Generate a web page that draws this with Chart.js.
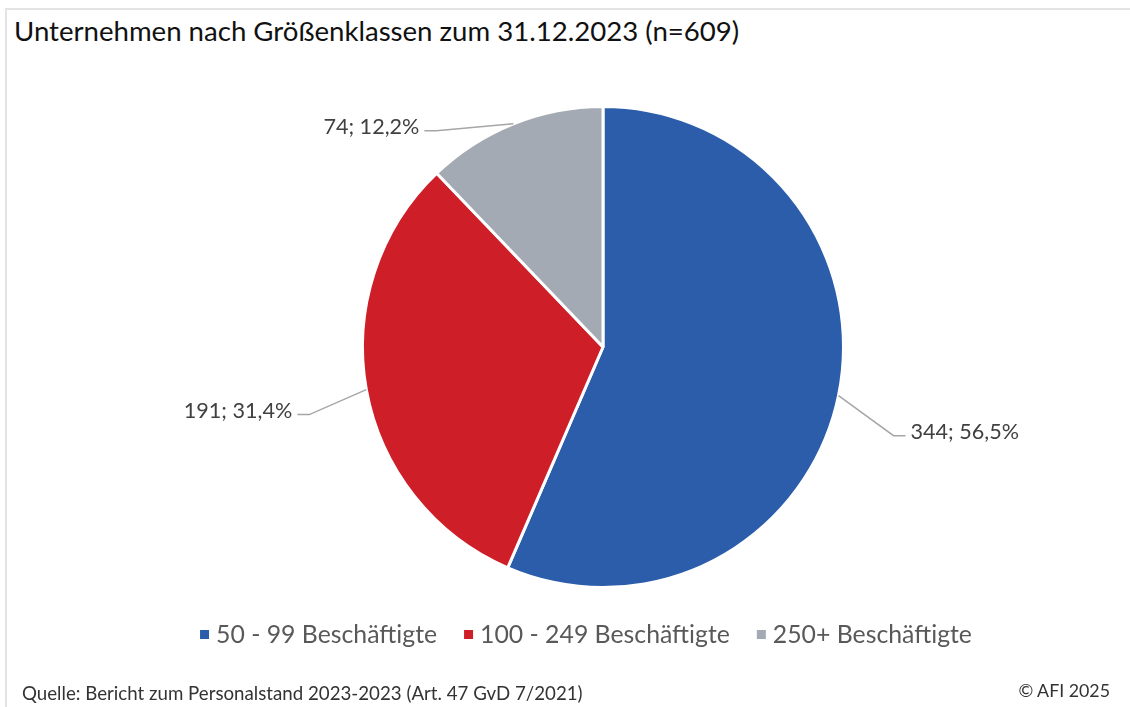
<!DOCTYPE html>
<html lang="de">
<head>
<meta charset="utf-8">
<title>Unternehmen nach Größenklassen</title>
<script src="https://cdn.jsdelivr.net/npm/chart.js@4.4.1/dist/chart.umd.min.js"></script>
<style>
  html, body { margin: 0; padding: 0; background: #fff; }
  #wrap { position: relative; width: 1130px; height: 707px; overflow: hidden; font-family: Lato, sans-serif; }
  #frame { position: absolute; left: 5px; top: 8px; width: 1140px; height: 720px; border: 2px solid #e3e3e3; box-sizing: border-box; }
  #title { position: absolute; left: 14px; top: 14px; font-size: 27.6px; color: #111; white-space: nowrap; }
  #source { position: absolute; left: 22px; top: 682px; font-size: 18.7px; color: #333; white-space: nowrap; }
  #copy { position: absolute; right: 20px; top: 679px; font-size: 17.8px; color: #333; white-space: nowrap; }
  canvas { position: absolute; left: 0; top: 0; }
</style>
</head>
<body>
<div id="wrap">
  <div id="frame"></div>
  <div id="title">Unternehmen nach Größenklassen zum 31.12.2023 (n=609)</div>
  <canvas id="pie" width="1130" height="707"></canvas>
  <div id="source">Quelle: Bericht zum Personalstand 2023-2023 (Art. 47 GvD 7/2021)</div>
  <div id="copy">© AFI 2025</div>
</div>
<script>
// Daten
const categories = ['50 - 99 Beschäftigte', '100 - 249 Beschäftigte', '250+ Beschäftigte'];
const counts = [344, 191, 74];
const colors = ['#2b5dab', '#ce1f29', '#a3aab3'];

const total = counts.reduce((a, b) => a + b, 0);

// Beschriftungen mit Führungslinien
const leaderLabels = {
  id: 'leaderLabels',
  afterDatasetsDraw(chart, args, opts) {
    const ctx = chart.ctx;
    const meta = chart.getDatasetMeta(0);
    ctx.save();
    ctx.font = opts.font;
    ctx.textBaseline = 'middle';
    meta.data.forEach((arc, i) => {
      const p = arc.getProps(['x', 'y', 'startAngle', 'endAngle', 'outerRadius'], true);
      const mid = (p.startAngle + p.endAngle) / 2;
      const sx = p.x + Math.cos(mid) * p.outerRadius;
      const sy = p.y + Math.sin(mid) * p.outerRadius;
      const off = opts.offsets[i];
      const ex = sx + off[0];
      const ey = sy + off[1];
      const dir = off[0] >= 0 ? 1 : -1;
      const hx = ex + dir * 12;
      ctx.strokeStyle = '#a6a6a6';
      ctx.lineWidth = 1.5;
      ctx.beginPath();
      ctx.moveTo(sx, sy);
      ctx.lineTo(ex, ey);
      ctx.lineTo(hx, ey);
      ctx.stroke();
      const v = counts[i];
      const pct = (v / total * 100).toFixed(1).replace('.', ',');
      ctx.fillStyle = '#404040';
      ctx.textAlign = dir > 0 ? 'left' : 'right';
      ctx.fillText(v + '; ' + pct + '%', hx + dir * 5, ey - 4);
    });
    ctx.restore();
  }
};

// Legende unten
const bottomLegend = {
  id: 'bottomLegend',
  afterDraw(chart, args, opts) {
    const ctx = chart.ctx;
    ctx.save();
    ctx.font = opts.font;
    ctx.textBaseline = 'alphabetic';
    const box = 9, gap = 7, spacing = 27;
    const widths = chart.data.labels.map(l => box + gap + ctx.measureText(l).width);
    const totalW = widths.reduce((a, b) => a + b, 0) + spacing * (widths.length - 1);
    let x = opts.centerX - totalW / 2;
    chart.data.labels.forEach((l, i) => {
      ctx.fillStyle = chart.data.datasets[0].backgroundColor[i];
      ctx.fillRect(x, opts.baseline - 13, box, box);
      ctx.fillStyle = '#595959';
      ctx.textAlign = 'left';
      ctx.fillText(l, x + box + gap, opts.baseline);
      x += widths[i] + spacing;
    });
    ctx.restore();
  }
};

new Chart(document.getElementById('pie'), {
  type: 'pie',
  data: {
    labels: categories,
    datasets: [{
      data: counts,
      backgroundColor: colors,
      borderColor: '#ffffff',
      borderWidth: 3
    }]
  },
  options: {
    responsive: false,
    devicePixelRatio: 1,
    animation: false,
    layout: { padding: { top: 105, bottom: 118, left: 361, right: 285 } },
    plugins: {
      legend: { display: false },
      tooltip: { enabled: false },
      leaderLabels: {
        font: '21.6px Lato',
        offsets: [[55, 40], [-57, 25], [-77, 7]]
      },
      bottomLegend: { font: '24.8px Lato', centerX: 586, baseline: 643 }
    }
  },
  plugins: [leaderLabels, bottomLegend]
});
</script>
</body>
</html>
